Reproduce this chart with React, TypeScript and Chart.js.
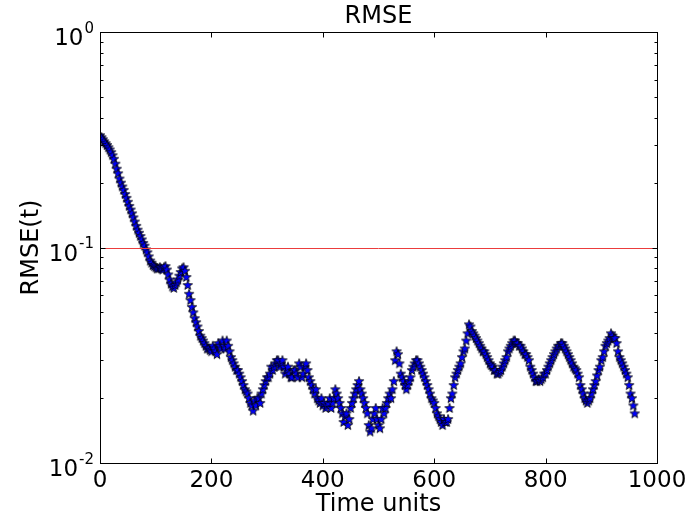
import React, { useEffect, useRef } from "react";
import { Chart, registerables } from "chart.js";

Chart.register(...registerables);

// ---- data ----
const T_START = 0;
const T_STEP = 5;
// RMSE(t) read at t = 0, 5, 10, ... 960
const rmseValues: number[] = [
  0.332, 0.318, 0.305, 0.292, 0.277, 0.258, 0.232, 0.209, 0.192, 0.177,
  0.163, 0.150, 0.138, 0.126, 0.117, 0.109, 0.102, 0.095, 0.087, 0.083,
  0.081, 0.080, 0.080, 0.081, 0.079, 0.071, 0.066, 0.067, 0.071, 0.077,
  0.081, 0.073, 0.061, 0.053, 0.047, 0.043, 0.039, 0.037, 0.035, 0.034,
  0.033, 0.034, 0.032, 0.035, 0.037, 0.034, 0.035, 0.031, 0.029, 0.027,
  0.026, 0.024, 0.022, 0.021, 0.019, 0.0175, 0.0185, 0.020, 0.021, 0.023,
  0.025, 0.026, 0.027, 0.029, 0.030, 0.029, 0.028, 0.027, 0.026, 0.025,
  0.027, 0.025, 0.028, 0.026, 0.029, 0.025, 0.023, 0.021, 0.020, 0.019,
  0.0185, 0.018, 0.019, 0.018, 0.020, 0.021, 0.019, 0.017, 0.0165, 0.015,
  0.018, 0.020, 0.022, 0.024, 0.021, 0.019, 0.017, 0.014, 0.016, 0.018,
  0.015, 0.016, 0.017, 0.019, 0.021, 0.022, 0.030, 0.032, 0.026, 0.024,
  0.022, 0.024, 0.027, 0.029, 0.030, 0.028, 0.026, 0.024, 0.022, 0.020,
  0.019, 0.017, 0.016, 0.015, 0.0155, 0.016, 0.020, 0.023, 0.026, 0.028,
  0.031, 0.034, 0.040, 0.043, 0.040, 0.038, 0.036, 0.034, 0.033, 0.031,
  0.029, 0.028, 0.027, 0.026, 0.027, 0.029, 0.031, 0.034, 0.036, 0.037,
  0.036, 0.035, 0.033, 0.032, 0.030, 0.027, 0.025, 0.024, 0.024, 0.025,
  0.026, 0.028, 0.030, 0.032, 0.034, 0.035, 0.036, 0.034, 0.032, 0.030,
  0.028, 0.027, 0.025, 0.022, 0.020, 0.019, 0.020, 0.022, 0.024, 0.027,
  0.030, 0.033, 0.036, 0.038, 0.039, 0.038, 0.033, 0.030, 0.028, 0.026,
  0.023, 0.020, 0.017,
];
// RMSE(t) read at t = 2.5, 7.5, 12.5, ... 957.5
const rmseValuesMid: number[] = [
  0.325, 0.311, 0.299, 0.285, 0.268, 0.245, 0.221, 0.200, 0.185, 0.170,
  0.156, 0.144, 0.132, 0.121, 0.113, 0.105, 0.098, 0.091, 0.085, 0.082,
  0.080, 0.081, 0.079, 0.082, 0.075, 0.068, 0.065, 0.069, 0.074, 0.080,
  0.078, 0.067, 0.057, 0.050, 0.045, 0.041, 0.038, 0.036, 0.034, 0.0335,
  0.035, 0.033, 0.036, 0.034, 0.035, 0.037, 0.033, 0.030, 0.028, 0.027,
  0.025, 0.023, 0.0215, 0.020, 0.0185, 0.0195, 0.020, 0.019, 0.022, 0.024,
  0.025, 0.028, 0.028, 0.030, 0.028, 0.030, 0.026, 0.028, 0.025, 0.027,
  0.026, 0.029, 0.025, 0.028, 0.027, 0.024, 0.022, 0.022, 0.0195, 0.020,
  0.019, 0.0185, 0.020, 0.019, 0.022, 0.020, 0.018, 0.0155, 0.017, 0.016,
  0.019, 0.021, 0.023, 0.022, 0.020, 0.018, 0.015, 0.0145, 0.017, 0.016,
  0.0145, 0.018, 0.018, 0.020, 0.020, 0.024, 0.033, 0.029, 0.025, 0.023,
  0.023, 0.025, 0.028, 0.030, 0.029, 0.027, 0.025, 0.023, 0.021, 0.0195,
  0.018, 0.0165, 0.0155, 0.016, 0.0155, 0.018, 0.021, 0.025, 0.027, 0.029,
  0.033, 0.037, 0.044, 0.041, 0.039, 0.037, 0.035, 0.033, 0.032, 0.030,
  0.0285, 0.027, 0.026, 0.0265, 0.028, 0.030, 0.033, 0.035, 0.037, 0.036,
  0.035, 0.034, 0.032, 0.031, 0.028, 0.026, 0.024, 0.0245, 0.0245, 0.026,
  0.027, 0.029, 0.031, 0.033, 0.035, 0.036, 0.035, 0.033, 0.031, 0.029,
  0.0275, 0.026, 0.023, 0.021, 0.0195, 0.0195, 0.021, 0.023, 0.0255, 0.028,
  0.031, 0.035, 0.037, 0.040, 0.038, 0.036, 0.031, 0.029, 0.027, 0.025,
  0.021, 0.0185,
];
const xTickValues = [0, 200, 400, 600, 800, 1000];
const yTickExponents = [-2, -1, 0];
const thresholdValue = 0.1;
const xRange = [0, 1000];
const yRange = [0.01, 1];
const titleText = "RMSE";
const xAxisLabel = "Time units";
const yAxisLabel = "RMSE(t)";

const FONT = '"DejaVu Sans", sans-serif';

function makeStar(): HTMLCanvasElement {
  const size = 12;
  const c = document.createElement("canvas");
  c.width = size;
  c.height = size;
  const g = c.getContext("2d")!;
  const cx = size / 2;
  const cy = size / 2 + 0.4;
  const R = 5;
  const r = 2.1;
  g.beginPath();
  for (let i = 0; i < 10; i++) {
    const ang = -Math.PI / 2 + (i * Math.PI) / 5;
    const rad = i % 2 === 0 ? R : r;
    g.lineTo(cx + rad * Math.cos(ang), cy + rad * Math.sin(ang));
  }
  g.closePath();
  g.fillStyle = "#0000ff";
  g.fill();
  g.strokeStyle = "#000000";
  g.lineWidth = 0.8;
  g.stroke();
  return c;
}

const decorations = {
  id: "mplDecorations",
  afterDatasetsDraw(chart: any) {
    const { ctx, chartArea: a, scales } = chart;
    const py = Math.round(scales.y.getPixelForValue(thresholdValue)) + 0.5;
    ctx.save();
    ctx.strokeStyle = "rgb(235,60,60)";
    ctx.lineWidth = 1;
    ctx.beginPath();
    ctx.moveTo(scales.x.getPixelForValue(xRange[0]), py);
    ctx.lineTo(scales.x.getPixelForValue(xRange[1]), py);
    ctx.stroke();
    ctx.restore();
  },
  afterDraw(chart: any) {
    const { ctx, chartArea: a, scales } = chart;
    const xs = scales.x;
    const ys = scales.y;
    ctx.save();
    ctx.strokeStyle = "#000";
    ctx.lineWidth = 1;
    const L = Math.round(a.left) + 0.5;
    const R = Math.round(a.right) + 0.5;
    const T = Math.round(a.top) + 0.5;
    const B = Math.round(a.bottom) + 0.5;
    ctx.strokeRect(L, T, R - L, B - T);

    ctx.beginPath();
    for (const v of xTickValues) {
      const px = Math.round(xs.getPixelForValue(v)) + 0.5;
      ctx.moveTo(px, B);
      ctx.lineTo(px, B - 5);
      ctx.moveTo(px, T);
      ctx.lineTo(px, T + 5);
    }
    for (const e of yTickExponents) {
      const py = Math.round(ys.getPixelForValue(Math.pow(10, e))) + 0.5;
      ctx.moveTo(L, py);
      ctx.lineTo(L + 5, py);
      ctx.moveTo(R, py);
      ctx.lineTo(R - 5, py);
    }
    for (let e = yTickExponents[0]; e < yTickExponents[yTickExponents.length - 1]; e++) {
      for (let m = 2; m <= 9; m++) {
        const py = Math.round(ys.getPixelForValue(m * Math.pow(10, e))) + 0.5;
        ctx.moveTo(L, py);
        ctx.lineTo(L + 3, py);
        ctx.moveTo(R, py);
        ctx.lineTo(R - 3, py);
      }
    }
    ctx.stroke();

    ctx.fillStyle = "#000";
    ctx.font = `23px ${FONT}`;
    ctx.textAlign = "center";
    ctx.textBaseline = "alphabetic";
    for (const v of xTickValues) {
      ctx.fillText(String(v), xs.getPixelForValue(v), a.bottom + 24);
    }
    for (const e of yTickExponents) {
      const py = ys.getPixelForValue(Math.pow(10, e));
      const base = "10";
      const exp = String(e);
      ctx.font = `23px ${FONT}`;
      const wb = ctx.measureText(base).width;
      ctx.font = `15px ${FONT}`;
      const we = ctx.measureText(exp).width;
      const right = a.left - 6;
      ctx.textAlign = "left";
      ctx.font = `23px ${FONT}`;
      ctx.fillText(base, right - we - wb - 1, py + 13);
      ctx.font = `15px ${FONT}`;
      ctx.fillText(exp, right - we, py + 0.5);
    }
    ctx.font = `24px ${FONT}`;
    ctx.textAlign = "center";
    ctx.fillText(titleText, (a.left + a.right) / 2, a.top - 9);
    ctx.fillText(xAxisLabel, (a.left + a.right) / 2, a.bottom + 48);
    ctx.save();
    ctx.translate(38, (a.top + a.bottom) / 2);
    ctx.rotate(-Math.PI / 2);
    ctx.fillText(yAxisLabel, 0, 0);
    ctx.restore();
    ctx.restore();
  },
};

export default function App() {
  const ref = useRef<HTMLCanvasElement | null>(null);
  useEffect(() => {
    document.body.style.margin = "0";
    const canvas = ref.current!;
    const star = makeStar();
    const points: { x: number; y: number }[] = [];
    rmseValues.forEach((v, i) => {
      points.push({ x: T_START + i * T_STEP, y: v });
      if (i < rmseValuesMid.length) {
        points.push({ x: T_START + (i + 0.5) * T_STEP, y: rmseValuesMid[i] });
      }
    });
    const chart = new Chart(canvas, {
      type: "scatter",
      data: {
        datasets: [
          {
            label: "RMSE",
            data: points,
            showLine: false,
            pointStyle: star,
            pointRadius: 5,
            backgroundColor: "#0000ff",
            borderColor: "#000",
          } as any,
        ],
      },
      options: {
        animation: false,
        responsive: false,
        devicePixelRatio: 1,
        events: [],
        layout: { padding: { left: 100, right: 31, top: 32, bottom: 56 } },
        plugins: { legend: { display: false }, tooltip: { enabled: false }, title: { display: false } },
        scales: {
          x: { type: "linear", min: xRange[0], max: xRange[1], display: false },
          y: { type: "logarithmic", min: yRange[0], max: yRange[1], display: false },
        },
      },
      plugins: [decorations],
    });
    return () => chart.destroy();
  }, []);
  return <canvas ref={ref} width={688} height={519} style={{ display: "block" }} />;
}
